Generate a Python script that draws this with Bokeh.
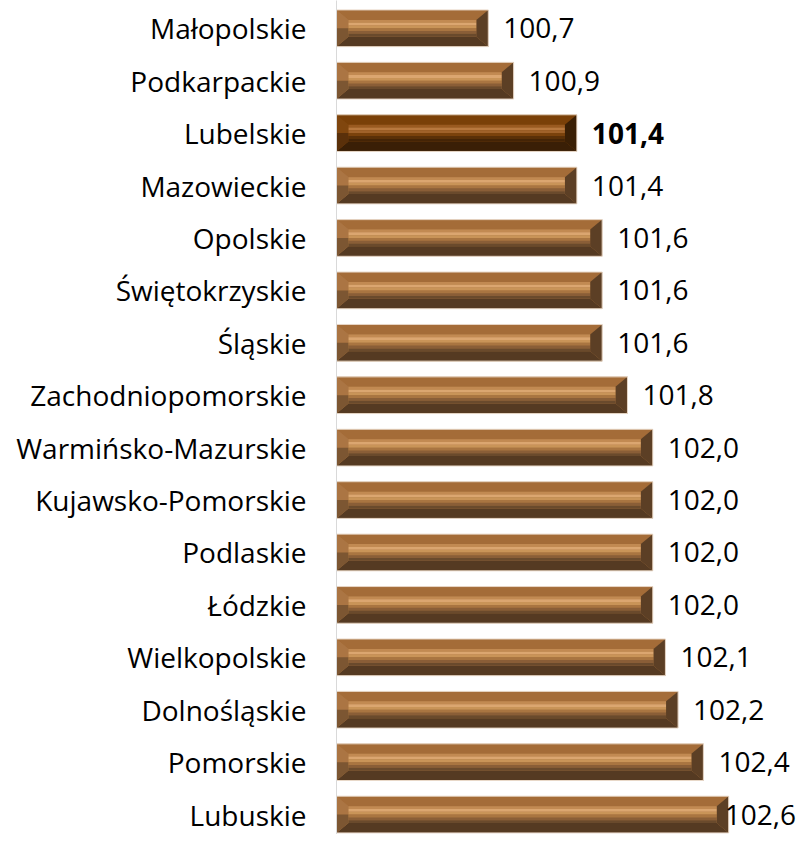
from bokeh.plotting import figure
from bokeh.models import Range1d, FixedTicker, ColumnDataSource
from bokeh.embed import file_html
from bokeh.resources import INLINE
from bokeh.core.properties import value

regions = ["Małopolskie", "Podkarpackie", "Lubelskie", "Mazowieckie", "Opolskie",
           "Świętokrzyskie", "Śląskie", "Zachodniopomorskie", "Warmińsko-Mazurskie",
           "Kujawsko-Pomorskie", "Podlaskie", "Łódzkie", "Wielkopolskie",
           "Dolnośląskie", "Pomorskie", "Lubuskie"]
values = [100.7, 100.9, 101.4, 101.4, 101.6, 101.6, 101.6, 101.8, 102.0, 102.0,
          102.0, 102.0, 102.1, 102.2, 102.4, 102.6]
highlight = "Lubelskie"
baseline = 99.5

# colour schemes (normal / highlighted); face gradient stops top->bottom
pal_norm = dict(top="#a46c38", bottom="#553a22", left_up="#ab7543", left_lo="#7c5632",
                right="#5c3f25", face=["#c28a52", "#dba670", "#c99458", "#a97541",
                                       "#8a5e37", "#6a4a2c"])
pal_hi = dict(top="#7a4008", bottom="#3a1f06", left_up="#80460e", left_lo="#5a300a",
              right="#3a1f05", face=["#9a5a20", "#b8783e", "#a0622a", "#7a420c",
                                     "#5a3008", "#442406"])

p = figure(width=797, height=834, output_backend="svg", toolbar_location=None,
           x_range=Range1d(baseline, 103.144), y_range=Range1d(15.38, -0.53),
           x_axis_location=None, min_border_left=336, min_border_right=0,
           min_border_top=0, min_border_bottom=0)
p.outline_line_color = None
p.xgrid.visible = False
p.ygrid.visible = False

hh = 0.35      # half bar height (category units)
by = 0.19      # bevel depth vertical
bx = 0.095     # bevel depth horizontal

xs, ys, cols = [], [], []
def add(px, py, c):
    xs.append(px); ys.append(py); cols.append(c)

for i, (r, v) in enumerate(zip(regions, values)):
    pal = pal_hi if r == highlight else pal_norm
    x0, x1 = baseline, v
    t, b = i - hh, i + hh
    ti, bi = t + by, b - by
    add([x0, x1, x1, x0], [t, t, b, b], pal["face"][3])
    add([x0, x1, x1 - bx, x0 + bx], [t, t, ti, ti], pal["top"])
    add([x0, x1, x1 - bx, x0 + bx], [b, b, bi, bi], pal["bottom"])
    add([x0, x0 + bx, x0 + bx, x0], [t, ti, i, i], pal["left_up"])
    add([x0, x0 + bx, x0 + bx, x0], [i, i, bi, b], pal["left_lo"])
    add([x1, x1 - bx, x1 - bx, x1], [t, ti, bi, b], pal["right"])
    h = bi - ti
    n = len(pal["face"])
    for k, c in enumerate(pal["face"]):
        ya, yb = ti + k * h / n, ti + (k + 1) * h / n
        add([x0 + bx, x1 - bx, x1 - bx, x0 + bx], [ya, ya, yb, yb], c)

p.patches(xs=xs, ys=ys, fill_color=cols, line_color=None)

p.rect(x=[(baseline + v) / 2 for v in values], y=list(range(len(values))),
       width=[v - baseline for v in values], height=2 * hh,
       fill_color=None, line_color="#e8d8c8", line_width=1)

labels = [f"{v:.1f}".replace(".", ",") for v in values]
vmax = max(values)
src = ColumnDataSource(dict(
    x=values, y=list(range(len(values))), t=labels,
    style=["bold" if r == highlight else "normal" for r in regions],
    off=[-4 if v == vmax else 15 for v in values]))
p.text(x="x", y="y", text="t", source=src, x_offset="off",
       text_font=value("Open Sans"), text_font_size="28px",
       text_font_style="style", text_baseline="middle", text_align="left",
       text_color="black")

p.yaxis.ticker = FixedTicker(ticks=list(range(len(regions))))
p.yaxis.major_label_overrides = {i: r for i, r in enumerate(regions)}
p.yaxis.major_tick_line_color = None
p.yaxis.minor_tick_line_color = None
p.yaxis.axis_line_color = "#d9d9d9"
p.yaxis.axis_line_width = 1
p.yaxis.major_label_standoff = 24
p.yaxis.major_label_text_font = "Open Sans"
p.yaxis.major_label_text_font_size = "28px"
p.yaxis.major_label_text_color = "black"

open("out.html", "w").write(file_html(p, INLINE))
